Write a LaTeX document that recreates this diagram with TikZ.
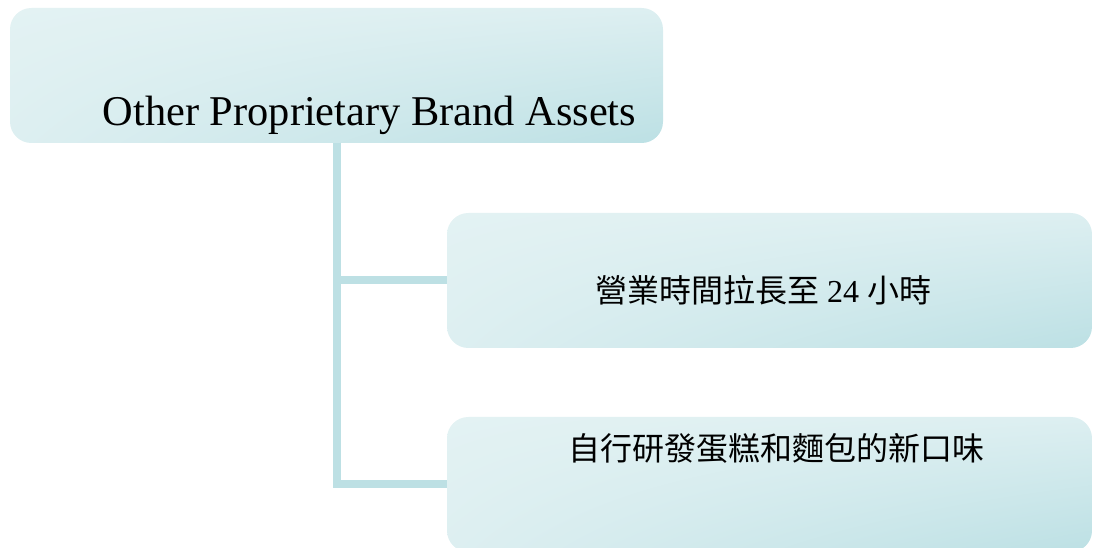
\documentclass[tikz,border=0pt]{standalone}
\usepackage{fontspec}
\usetikzlibrary{shadings}
\setmainfont{Liberation Serif}
\newfontfamily\cjk{Noto Sans CJK TC}
\definecolor{lite}{HTML}{E3F2F3}
\definecolor{litemid}{HTML}{DDEFF1}
\definecolor{dark}{HTML}{BCE0E4}
\definecolor{linec}{HTML}{BDE0E4}
\begin{document}
\begin{tikzpicture}[x=0.75pt,y=-0.75pt,
  box/.style={rectangle, rounded corners=16pt, inner sep=0pt, outer sep=0pt,
    shade, upper left=lite, upper right=litemid, lower left=litemid, lower right=dark},
  topbox/.style={box, minimum width=489.75pt, minimum height=101.25pt},
  subbox/.style={box, minimum width=483.75pt, minimum height=101.25pt},
  conn/.style={draw=linec, line width=6pt, line join=miter},
  cjktext/.style={font=\fontsize{24}{28}\selectfont, inner sep=0pt}]
\useasboundingbox (0,0) rectangle (1093,548);
\clip (0,0) rectangle (1093,548);
\node[topbox] (b1) at (336.5,75.5) {};
\node[subbox] (b2) at (769.5,280.5) {};
\node[subbox] (b3) at (769.5,484.5) {};
\coordinate (sp) at (337,143);
\draw[conn] (b1.south -| sp) |- (b3.west);
\draw[conn] (b2.west -| sp) -- (b2.west);
\node[anchor=base, inner sep=0pt, font=\fontsize{31.8}{36}\selectfont] (t1) at (369.5,126) {Other Proprietary Brand Assets};
\node[cjktext] (t2) at (763,290) {{\cjk 營業時間拉長至} 24 {\cjk 小時}};
\node[cjktext] (t3) at (776,448) {\cjk 自行研發蛋糕和麵包的新口味};
\end{tikzpicture}
\end{document}
